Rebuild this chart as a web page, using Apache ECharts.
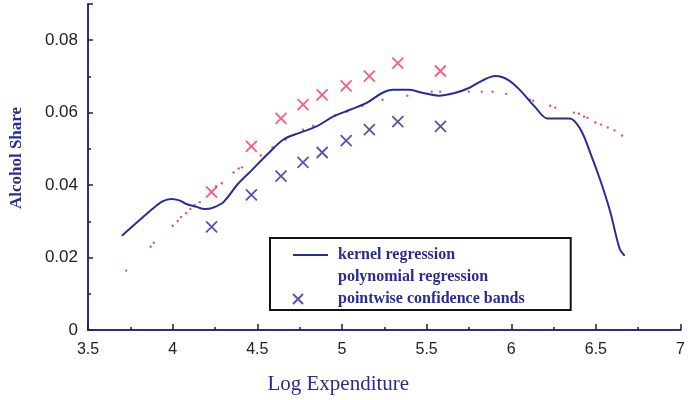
<!DOCTYPE html>
<html>
<head>
<meta charset="utf-8">
<script src="https://cdn.jsdelivr.net/npm/echarts@6/dist/echarts.min.js"></script>
<style>
  html, body { margin: 0; padding: 0; background: #fff; }
  #chart { width: 688px; height: 400px; }
</style>
</head>
<body>
<div id="chart"></div>
<script>
// Kernel regression estimate: [log expenditure, alcohol share]
const kernelX = [3.70, 3.76, 3.88, 3.94, 3.99, 4.04, 4.08, 4.14, 4.19, 4.24, 4.30, 4.385, 4.46, 4.56, 4.655,
  4.754, 4.85, 4.947, 5.047, 5.146, 5.24, 5.30, 5.40, 5.474, 5.573, 5.67, 5.75, 5.826, 5.906, 5.983,
  6.06, 6.14, 6.216, 6.345, 6.41, 6.47, 6.53, 6.585, 6.64, 6.67];
const kernelY = [0.0260, 0.0285, 0.0334, 0.0355, 0.0362, 0.0358, 0.0348, 0.0340, 0.0334, 0.0338, 0.0353, 0.0403, 0.0438, 0.0485, 0.0526,
  0.0545, 0.0562, 0.0589, 0.0608, 0.0627, 0.0655, 0.0663, 0.0663, 0.0655, 0.0647, 0.0655, 0.0668, 0.0688, 0.0701, 0.0690,
  0.0658, 0.0616, 0.0584, 0.0584, 0.0553, 0.0485, 0.0408, 0.0326, 0.0225, 0.0205];

// Polynomial regression, drawn as a dotted trace
const polyX = [3.726, 3.87, 3.889, 4.0, 4.03, 4.05, 4.08, 4.105, 4.13, 4.16, 4.257, 4.29, 4.36, 4.39, 4.41,
  4.52, 4.59, 4.667, 4.77, 4.83, 4.96, 5.03, 5.12, 5.24, 5.386, 5.53, 5.58, 5.75, 5.826, 5.89,
  5.97, 6.11, 6.13, 6.23, 6.26, 6.37, 6.40, 6.43, 6.45, 6.497, 6.53, 6.57, 6.61, 6.655];
const polyY = [0.0164, 0.0230, 0.0241, 0.0288, 0.0301, 0.0312, 0.0323, 0.0334, 0.0345, 0.0353, 0.0397, 0.0405, 0.0435, 0.0446, 0.0449,
  0.0482, 0.0504, 0.0526, 0.0553, 0.0564, 0.0592, 0.0603, 0.0619, 0.0636, 0.0647, 0.0658, 0.0658, 0.0658, 0.0658, 0.0658,
  0.0652, 0.0636, 0.0633, 0.0619, 0.0614, 0.0600, 0.0597, 0.0589, 0.0586, 0.0573, 0.0567, 0.0559, 0.0551, 0.0537];

// Pointwise confidence bands
const bandX = [4.23, 4.465, 4.64, 4.77, 4.883, 5.025, 5.162, 5.33, 5.582];
const bandUpper = [0.0381, 0.0507, 0.0584, 0.0622, 0.0649, 0.0674, 0.0701, 0.0737, 0.0715];
const bandLower = [0.0285, 0.0373, 0.0425, 0.0463, 0.0490, 0.0523, 0.0553, 0.0575, 0.0562];

const xTicks = { min: 3.5, max: 7, step: 0.5 };
const yTicks = { min: 0, max: 0.09, step: 0.02 };

const NAVY = '#2B2B98';
const RED = '#F5345F';
const DOT = '#E8283A';
const CROSS = 'path://M0,0L10,10M10,0L0,10';
// legend glyphs: the cross sits at the left of a 35-wide box, the line is a thin bar
const CROSS_ICON = 'path://M0,0L10,10M10,0L0,10M35,5L35,5';
const LINE_ICON = 'path://M0,0L35,0L35,2L0,2Z';

const pairs = (xs, ys) => xs.map((x, i) => [x, ys[i]]);

const chart = echarts.init(document.getElementById('chart'), null, { renderer: 'canvas' });

chart.setOption({
  animation: false,
  backgroundColor: '#fff',
  grid: { left: 86, right: 4, top: 4, bottom: 68, containLabel: false },
  xAxis: {
    type: 'value',
    min: xTicks.min, max: xTicks.max, interval: xTicks.step,
    name: 'Log Expenditure',
    nameLocation: 'middle',
    nameGap: 44,
    nameTextStyle: { fontFamily: 'Liberation Serif', fontSize: 21, color: NAVY, padding: [0, 92, 0, 0] },
    axisLine: { lineStyle: { color: NAVY, width: 2 } },
    axisTick: { inside: true, length: 6, lineStyle: { color: '#222', width: 1.5 } },
    minorTick: { show: true, splitNumber: 2, length: 3, lineStyle: { color: '#222', width: 1.5 } },
    axisLabel: { margin: 12, fontFamily: 'Liberation Sans', fontSize: 16, color: '#222' },
    splitLine: { show: false }
  },
  yAxis: {
    type: 'value',
    min: yTicks.min, max: yTicks.max, interval: yTicks.step,
    name: 'Alcohol Share',
    nameLocation: 'middle',
    nameGap: 63,
    nameTextStyle: { fontFamily: 'Liberation Serif', fontSize: 17, fontWeight: 'bold', color: NAVY, padding: [0, 0, 0, 18] },
    axisLine: { lineStyle: { color: NAVY, width: 2 } },
    axisTick: { inside: true, length: 5, lineStyle: { color: '#222', width: 1.5 } },
    minorTick: { show: true, splitNumber: 2, length: 3, lineStyle: { color: '#222', width: 1.5 } },
    axisLabel: {
      margin: 10, fontFamily: 'Liberation Sans', fontSize: 17, color: '#222',
      padding: [8, 0, 0, 0], showMaxLabel: false,
      formatter: v => (v === 0 ? '0' : v.toFixed(2))
    },
    splitLine: { show: false }
  },
  legend: {
    orient: 'vertical',
    left: 270, top: 238,
    padding: [9, 46, 3, 22],
    itemWidth: 35, itemHeight: 14, itemGap: 6,
    borderColor: '#111', borderWidth: 2,
    backgroundColor: '#fff',
    textStyle: { fontFamily: 'Liberation Serif', fontSize: 16, fontWeight: 'bold', color: NAVY, padding: [0, 0, 0, 5] },
    data: [
      { name: 'kernel regression', icon: LINE_ICON, itemStyle: { color: NAVY } },
      { name: 'polynomial regression', icon: 'none' },
      { name: 'pointwise confidence bands', icon: CROSS_ICON }
    ]
  },
  series: [
    {
      name: 'polynomial regression',
      type: 'scatter',
      data: pairs(polyX, polyY),
      symbol: 'circle', symbolSize: 2.4,
      itemStyle: { color: DOT }
    },
    {
      name: 'kernel regression',
      type: 'line',
      data: pairs(kernelX, kernelY),
      smooth: 0.35,
      showSymbol: false, symbol: 'none',
      lineStyle: { color: NAVY, width: 2 },
      itemStyle: { color: NAVY }
    },
    {
      name: 'upper band',
      type: 'scatter',
      data: pairs(bandX, bandUpper),
      symbol: CROSS, symbolSize: 11,
      itemStyle: { color: 'rgba(0,0,0,0)', borderColor: RED, borderWidth: 1.8 }
    },
    {
      name: 'pointwise confidence bands',
      type: 'scatter',
      data: pairs(bandX, bandLower),
      symbol: CROSS, symbolSize: 11,
      itemStyle: { color: 'rgba(0,0,0,0)', borderColor: NAVY, borderWidth: 1.8 }
    }
  ]
});
</script>
</body>
</html>
